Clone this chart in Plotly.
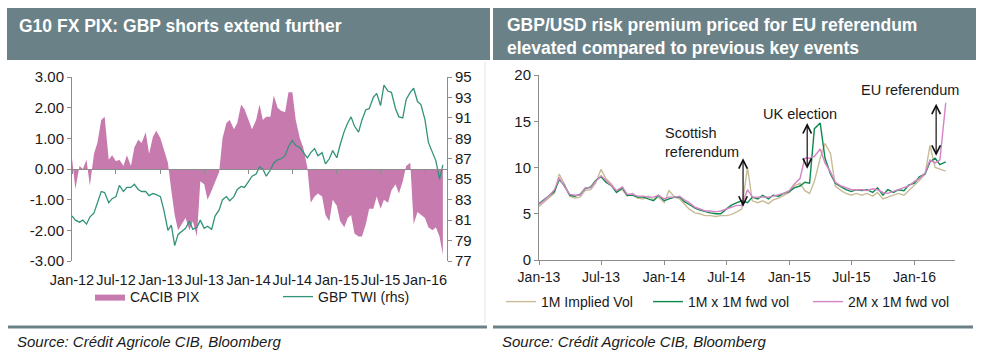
import pandas as pd
import plotly.graph_objects as go

# ---------------- Left chart data (semi-monthly) ----------------
pix = [0.35, -0.65, 0.1, 0.0, 0.3, -0.55, 0.5, 0.85, 1.6, 1.7,
       0.3, 0.45, 0.25, 0.3, 0.1, 0.45, 0.1, 0.7, 0.95, 0.85,
       1.2, 0.5, 1.05, 1.25, 1.0, 0.6, 0.2, -0.7, -1.5, -2.0,
       -1.8, -1.6, -2.0, -1.7, -2.2, -0.4, -0.5, -1.0, -0.7, -0.4,
       -0.1, 1.0, 1.5, 1.6, 1.3, 1.5, 2.1, 1.95, 1.6, 1.3,
       1.6, 2.1, 1.6, 1.7, 1.7, 2.4, 2.0, 1.9, 1.85, 2.5,
       2.5, 1.6, 1.0, 0.7, 0.05, -1.1, -0.9, -0.8, -0.9, -1.5,
       -1.7, -1.0, -1.2, -1.7, -1.9, -1.6, -1.5, -2.1, -2.2, -2.2,
       -1.8, -1.3, -1.3, -0.9, -1.3, -1.0, -1.1, -0.7, -0.5, -0.8,
       -0.4, 0.1, 0.2, -1.8, -1.4, -1.5, -1.6, -1.9, -2.0, -1.9,
       -2.2, -2.8]
twi = [81.4, 81.0, 80.8, 81.0, 80.6, 81.3, 81.7, 82.6, 83.8, 83.7,
       82.7, 83.1, 83.3, 84.4, 83.8, 84.2, 84.2, 84.5, 84.0, 83.8,
       83.8, 83.4, 83.6, 83.5, 83.3, 82.0, 80.0, 80.5, 78.5, 79.6,
       79.9, 80.2, 80.9, 80.1, 80.3, 81.0, 80.2, 80.4, 80.1, 81.4,
       82.0, 83.0, 83.3, 82.9, 83.3, 84.0, 84.3, 84.2, 84.8, 85.3,
       85.5, 86.2, 86.0, 85.3, 85.9, 86.6, 86.9, 87.0, 87.3, 88.2,
       88.8, 88.3, 88.1, 87.6, 87.1, 87.6, 88.0, 87.3, 87.6, 86.5,
       87.0, 87.8, 87.1, 88.4, 89.7, 90.5, 91.1, 90.2, 89.6, 90.8,
       91.8, 91.9, 93.0, 93.4, 92.2, 94.2, 93.6, 93.5, 91.9, 91.1,
       91.0, 92.8, 93.5, 93.9, 92.6, 92.3, 90.8, 88.6, 87.6, 86.8,
       85.0, 86.4]
left_start = "2012-01-01"
left_ticks = [-3, -2, -1, 0, 1, 2, 3]
left_ticklabels = ["-3.00", "-2.00", "-1.00", "0.00", "1.00", "2.00", "3.00"]
rhs_ticks = [77, 79, 81, 83, 85, 87, 89, 91, 93, 95]

# ---------------- Right chart data (semi-monthly) ----------------
vol_1m = [5.8, 6.3, 6.8, 7.2, 9.3, 8.3, 6.9, 6.7, 6.8, 7.5,
          7.6, 8.3, 9.8, 8.8, 8.2, 7.4, 7.6, 6.9, 7.2, 6.7,
          6.6, 6.9, 6.5, 6.8, 6.2, 7.5, 6.8, 6.6, 6.0, 5.5,
          5.1, 5.0, 4.8, 4.8, 4.7, 4.8, 4.8, 4.9, 5.2, 5.5,
          10.0, 6.4, 6.2, 6.4, 6.1, 6.5, 6.7, 7.0, 7.3, 8.0,
          8.3, 7.5, 7.2, 8.5, 11.0, 12.6, 11.5, 8.0, 7.5, 7.2,
          7.0, 7.2, 7.0, 7.2, 6.9, 7.3, 6.6, 6.8, 7.0, 7.2,
          7.0, 7.5, 8.0, 8.6, 9.3, 12.4, 10.0, 9.8, 9.6]
fwd_1m1m = [6.1, 6.5, 7.0, 7.4, 8.7, 8.1, 7.0, 6.9, 7.1, 7.7,
            7.9, 8.6, 9.0, 8.4, 8.0, 7.3, 7.8, 7.0, 7.0, 6.8,
            6.8, 6.6, 6.4, 7.0, 6.4, 6.6, 6.8, 6.8, 6.3, 6.0,
            5.6, 5.4, 5.2, 5.1, 5.0, 5.0, 5.5, 5.9, 6.2, 6.4,
            6.2, 6.8, 6.6, 7.0, 6.6, 7.0, 6.9, 7.2, 7.4, 7.8,
            8.0, 8.4, 8.3, 14.2, 14.8, 11.0, 9.3, 8.3, 7.9, 7.6,
            7.4, 7.6, 7.5, 7.6, 7.3, 7.8, 7.0, 7.6, 7.3, 7.6,
            7.5, 8.1, 8.3, 9.0, 9.3, 10.6, 11.0, 10.3, 10.6]
fwd_2m1m = [6.0, 6.4, 7.0, 7.6, 8.9, 8.0, 7.1, 7.0, 7.0, 7.8,
            7.8, 8.5, 9.1, 8.6, 8.0, 7.5, 7.9, 7.1, 7.1, 6.9,
            6.9, 6.8, 6.8, 7.0, 6.6, 6.8, 6.8, 6.9, 6.5, 6.2,
            5.7, 5.5, 5.3, 5.3, 5.2, 5.3, 5.5, 5.7, 5.9, 5.9,
            7.6, 6.8, 6.8, 6.8, 6.8, 6.9, 7.1, 7.2, 7.5, 8.2,
            8.8, 11.0, 11.0, 11.2, 12.0, 10.5, 9.5, 8.4, 8.0, 7.8,
            7.6, 7.6, 7.6, 7.5, 7.7, 7.6, 7.3, 7.2, 7.4, 7.6,
            7.8, 8.0, 8.5, 8.8, 9.4, 10.8, 10.5, 10.8, 17.0]
right_start = "2013-01-01"

event_labels = ["Scottish<br>referendum", "UK election", "EU referendum"]
event_label_dates = ["2013-12-28", "2015-02-02", "2015-12-19"]
event_label_levels = [12.65, 15.8, 18.4]
event_label_anchor = ["left", "center", "center"]
event_arrow_dates = ["2014-08-19", "2015-02-22", "2016-03-04"]
event_arrow_low = [5.6, 9.7, 11.1]
event_arrow_high = [11.0, 14.8, 16.9]

# ---------------- Styling ----------------
W, H = 993, 352
FONT = "Liberation Sans, Arial, sans-serif"
HEAD = "rgb(106,129,135)"
AXC = "#8c8c8c"
TXT = "#1a1a1a"


def px(x):
    return x / W


def py(y):
    return 1 - y / H


pix_dates = pd.date_range(left_start, periods=len(pix), freq="SMS")
vol_dates = pd.date_range(right_start, periods=len(vol_1m), freq="SMS")

fig = go.Figure()

fig.add_trace(go.Scatter(
    x=pix_dates, y=pix, name="CACIB PIX", mode="lines",
    line=dict(width=0, color="#c67aae"), fill="tozeroy", fillcolor="#c67aae",
    xaxis="x", yaxis="y", legend="legend", showlegend=True))
fig.add_trace(go.Scatter(
    x=pix_dates, y=twi, name="GBP TWI (rhs)", mode="lines",
    line=dict(width=1.3, color="#33937a"),
    xaxis="x", yaxis="y2", legend="legend2", showlegend=True))

fig.add_trace(go.Scatter(
    x=vol_dates, y=vol_1m, name="1M Implied Vol", mode="lines",
    line=dict(width=1.4, color="#c8bc98"),
    xaxis="x2", yaxis="y3", legend="legend3", showlegend=True))
fig.add_trace(go.Scatter(
    x=vol_dates, y=fwd_1m1m, name="1M x 1M fwd vol", mode="lines",
    line=dict(width=1.4, color="#0b8a4c"),
    xaxis="x2", yaxis="y3", legend="legend4", showlegend=True))
fig.add_trace(go.Scatter(
    x=vol_dates, y=fwd_2m1m, name="2M x 1M fwd vol", mode="lines",
    line=dict(width=1.4, color="#d483c6"),
    xaxis="x2", yaxis="y3", legend="legend5", showlegend=True))

tickfont = dict(family=FONT, size=14, color=TXT)
left_ydom = [py(261), py(77)]
zero_pos = left_ydom[0] + (left_ydom[1] - left_ydom[0]) / 2

axis_common = dict(showline=True, linecolor=AXC, linewidth=1, ticks="outside",
                   ticklen=4, tickcolor=AXC, showgrid=False, zeroline=False,
                   tickangle=0, automargin=False)

fig.update_layout(
    width=W, height=H,
    margin=dict(l=0, r=0, t=0, b=0, pad=0, autoexpand=False),
    showlegend=True,
    paper_bgcolor="white", plot_bgcolor="rgba(0,0,0,0)",
    font=dict(family=FONT, size=14, color=TXT),
    xaxis=dict(domain=[px(72), px(447)], type="date",
               range=["2012-01-01", "2016-04-01"],
               anchor="free", position=zero_pos,
               dtick="M6", tick0="2012-01-01", tickformat="%b-%y",
               ticklabelstandoff=94, tickfont=dict(family=FONT, size=14.5, color=TXT),
               **axis_common),
    yaxis=dict(domain=left_ydom, range=[-3, 3], anchor="x",
               tickvals=left_ticks, ticktext=left_ticklabels,
               tickfont=dict(family=FONT, size=15, color=TXT), **axis_common),
    yaxis2=dict(range=[77, 95], overlaying="y", side="right", anchor="x",
                tickvals=rhs_ticks, tickfont=dict(family=FONT, size=15, color=TXT),
                **axis_common),
    xaxis2=dict(domain=[px(539), px(955)], type="date",
                range=["2013-01-01", "2016-04-28"], anchor="y3",
                dtick="M6", tick0="2013-01-01", tickformat="%b-%y",
                tickfont=tickfont, **axis_common),
    yaxis3=dict(domain=[py(260), py(75)], range=[0, 20], dtick=5,
                anchor="x2", tickfont=dict(family=FONT, size=15, color=TXT),
                **axis_common),
)

legend_common = dict(orientation="h", xanchor="left", yanchor="middle",
                     bgcolor="rgba(0,0,0,0)", font=dict(family=FONT, size=14, color=TXT),
                     itemwidth=30)
fig.update_layout(
    legend=dict(x=px(90), y=py(297), **legend_common),
    legend2=dict(x=px(278), y=py(297), **legend_common),
    legend3=dict(x=px(501), y=py(302), **legend_common),
    legend4=dict(x=px(648), y=py(302), **legend_common),
    legend5=dict(x=px(808), y=py(302), **legend_common),
)

shapes = [
    dict(type="rect", xref="paper", yref="paper", x0=px(7), x1=px(490),
         y0=py(60), y1=py(8), fillcolor=HEAD, line=dict(width=0), layer="below"),
    dict(type="rect", xref="paper", yref="paper", x0=px(493), x1=px(976),
         y0=py(60), y1=py(8), fillcolor=HEAD, line=dict(width=0), layer="below"),
    dict(type="line", xref="paper", yref="paper", x0=px(8), x1=px(487),
         y0=py(327), y1=py(327), line=dict(color=HEAD, width=3)),
    dict(type="line", xref="paper", yref="paper", x0=px(493), x1=px(973),
         y0=py(327), y1=py(327), line=dict(color=HEAD, width=3)),
    dict(type="line", xref="paper", yref="paper", x0=px(485), x1=px(485),
         y0=py(62), y1=py(323), line=dict(color="#e4e4e4", width=1)),
]

annotations = [
    dict(xref="paper", yref="paper", x=px(17), y=py(26), xanchor="left",
         yanchor="middle", showarrow=False,
         text="<b>G10 FX PIX: GBP shorts extend further</b>",
         font=dict(family=FONT, size=17.5, color="white")),
    dict(xref="paper", yref="paper", x=px(505), y=py(36.5), xanchor="left",
         yanchor="middle", showarrow=False, align="left",
         text="<b>GBP/USD risk premium priced for EU referendum<br>elevated compared to previous key events</b>",
         font=dict(family=FONT, size=17.5, color="white")),
    dict(xref="paper", yref="paper", x=px(15), y=py(341), xanchor="left",
         yanchor="middle", showarrow=False,
         text="<i>Source: Crédit Agricole CIB, Bloomberg</i>",
         font=dict(family=FONT, size=15, color=TXT)),
    dict(xref="paper", yref="paper", x=px(500), y=py(341), xanchor="left",
         yanchor="middle", showarrow=False,
         text="<i>Source: Crédit Agricole CIB, Bloomberg</i>",
         font=dict(family=FONT, size=15, color=TXT)),
]

for lab, d, lv, anc in zip(event_labels, event_label_dates, event_label_levels, event_label_anchor):
    annotations.append(dict(xref="x2", yref="y3", x=d, y=lv, text=lab,
                            showarrow=False, xanchor=anc, yanchor="middle",
                            align="left", font=dict(family=FONT, size=14.5, color=TXT)))

for d, lo, hi in zip(event_arrow_dates, event_arrow_low, event_arrow_high):
    annotations.append(dict(xref="x2", yref="y3", x=d, y=hi, ax=d, ay=lo,
                            axref="x2", ayref="y3", text="", showarrow=True,
                            arrowhead=5, startarrowhead=5, arrowside="end+start",
                            arrowsize=1.4, startarrowsize=1.4, arrowwidth=1.2,
                            arrowcolor="#111111", standoff=0, startstandoff=0))

fig.update_layout(shapes=shapes, annotations=annotations)

fig.write_html("out.html")
